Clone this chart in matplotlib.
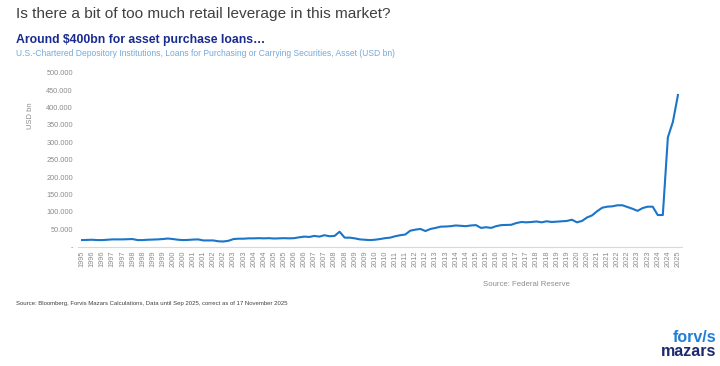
import matplotlib
matplotlib.use("Agg")
import matplotlib.pyplot as plt
from matplotlib.ticker import FuncFormatter, FixedLocator

plt.rcParams['font.family'] = ['Liberation Sans', 'DejaVu Sans']

# Quarterly values (USD bn), late 1995 -> mid 2025
values = [19, 19.5, 20, 19, 19, 20, 21, 21, 21, 21.5,
          22, 19, 19, 20, 20.5, 21, 22, 23.5, 22, 20,
          19, 19.5, 20.5, 21, 18, 18, 18, 15.5, 15, 17,
          22, 23, 23, 24, 24, 24.5, 24, 24.5, 23.5, 24,
          24.5, 24, 24.5, 27, 29, 28, 31, 29, 33, 30,
          31, 43, 26, 26, 24, 21, 20, 19, 20, 22,
          24.5, 26, 30, 33, 35, 46, 49, 51, 45, 51,
          54, 57.5, 58, 59, 61, 60, 59, 61, 62, 54,
          56, 54, 59, 62, 62.5, 63, 68, 71, 70, 71,
          72.5, 70, 73, 71, 72, 73, 74, 77.5, 70, 74,
          84, 90, 102, 112, 115, 116, 119, 119, 114, 109,
          103, 111, 115, 115, 91, 91, 314, 359, 436]

tick_labels = ["1995",
               "1996", "1996", "1997", "1997", "1998", "1998", "1999", "1999",
               "2000", "2000", "2001", "2001", "2002", "2002", "2003", "2003",
               "2004", "2004", "2005", "2005", "2006", "2006", "2007", "2007",
               "2008", "2008", "2009", "2009", "2010", "2010", "2011", "2011",
               "2012", "2012", "2013", "2013", "2014", "2014", "2015", "2015",
               "2016", "2016", "2017", "2017", "2018", "2018", "2019", "2019",
               "2020", "2020", "2021", "2021", "2022", "2022", "2023", "2023",
               "2024", "2024", "2025"]

y_ticks = [0, 50, 100, 150, 200, 250, 300, 350, 400, 450, 500]

title = "Is there a bit of too much retail leverage in this market?"
subtitle = "Around $400bn for asset purchase loans\u2026"
series_name = ("U.S.-Chartered Depository Institutions, Loans for Purchasing or "
               "Carrying Securities, Asset (USD bn)")

W, H = 720, 366
fig = plt.figure(figsize=(W / 100, H / 100), dpi=100)
fig.patch.set_facecolor("white")

ax_left, ax_right = 78, 682
ax_top, ax_bottom = 72.7, 246.7
ax = fig.add_axes([ax_left / W, 1 - ax_bottom / H,
                   (ax_right - ax_left) / W, (ax_bottom - ax_top) / H])

x = list(range(len(values)))
ax.plot(x, values, color="#1b75c9", lw=1.5, solid_joinstyle="round")

ax.set_xlim(-0.8, len(values) - 1 + 0.8)
ax.set_ylim(0, 500)

tick_pos = [2 * i for i in range(len(tick_labels))]
ax.xaxis.set_major_locator(FixedLocator(tick_pos))
ax.set_xticklabels(tick_labels, rotation=90, fontsize=5.3, color="#8c8c8c")
ax.set_yticks(y_ticks)
ax.yaxis.set_major_formatter(FuncFormatter(lambda v, p: "-" if v == 0 else f"{v:.3f}"))
ax.tick_params(axis="y", labelsize=5.3, labelcolor="#8c8c8c", length=0, pad=3.6)
ax.tick_params(axis="x", length=0, pad=3)

for s in ["top", "right", "left"]:
    ax.spines[s].set_visible(False)
ax.spines["bottom"].set_color("#d9d9d9")
ax.spines["bottom"].set_linewidth(0.8)

fig.text(30 / W, 1 - 116 / H, "USD bn", rotation=90, fontsize=5.5,
         color="#8c8c8c", ha="center", va="center")

fig.text(16 / W, 1 - 14 / H, title, fontsize=11.1, color="#404040",
         ha="left", va="center")
fig.text(16 / W, 1 - 40 / H, subtitle, fontsize=8.8, color="#1a2b8f",
         fontweight="bold", ha="left", va="center")
fig.text(16 / W, 1 - 53 / H, series_name, fontsize=6.15, color="#74a9db",
         ha="left", va="center")

fig.text(483 / W, 1 - 284 / H, "Source: Federal Reserve", fontsize=5.6,
         color="#8c8c8c", ha="left", va="center")
fig.text(16 / W, 1 - 304 / H,
         "Source: Bloomberg, Forvis Mazars Calculations, Data until Sep 2025, "
         "correct as of 17 November 2025",
         fontsize=4.3, color="#404040", ha="left", va="center")

fig.text(716 / W, 1 - 338 / H, "forv/s", fontsize=11.5, fontweight="bold",
         color="#1f7fd6", ha="right", va="center")
fig.text(716 / W, 1 - 352 / H, "mazars", fontsize=11.5, fontweight="bold",
         color="#1d2a6e", ha="right", va="center")

fig.savefig("out.png", dpi=100, facecolor="white")
